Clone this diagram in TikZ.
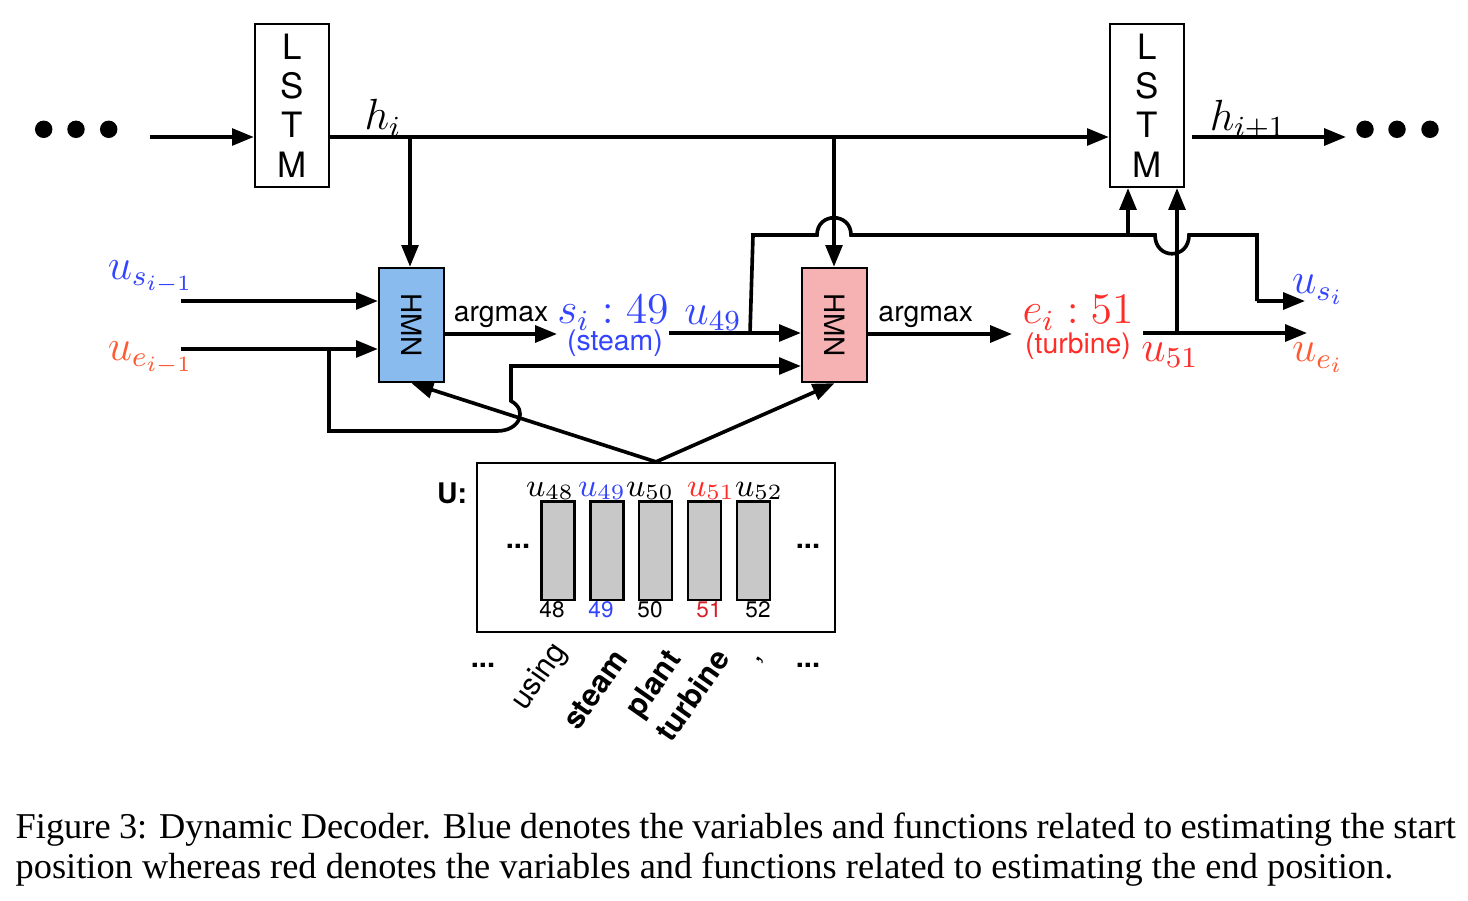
\documentclass[tikz,border=0pt]{standalone}
\usepackage{fontspec}
\setsansfont{TeX Gyre Heros}
\newfontfamily\captionfont{Liberation Serif}
\usetikzlibrary{
	arrows.meta,
	positioning
}
\definecolor{startblue}{RGB}{51,68,255}
\definecolor{endred}{RGB}{255,45,40}
\definecolor{endorange}{RGB}{255,90,50}
\definecolor{endnum}{RGB}{215,30,40}
\definecolor{hmnblue}{RGB}{138,187,238}
\definecolor{hmnpink}{RGB}{246,178,178}
\definecolor{bargray}{RGB}{200,200,200}
\tikzset{
	>={Triangle[length=6pt,width=4.6pt]},
	graphedge/.style={line width=1pt},
	boxline/.style={draw, line width=0.6pt, inner sep=0pt},
	lstmnode/.style={boxline, minimum width=20.4pt, minimum height=44.8pt, align=center, font=\sffamily\fontsize{9.6}{10.8}\selectfont},
	hmnnode/.style={boxline, minimum width=17.9pt, minimum height=31.4pt},
	hmntext/.style={rotate=-90, inner sep=0pt, font=\sffamily\fontsize{7.7}{8}\selectfont},
	barnode/.style={boxline, fill=bargray, minimum width=9.1pt, minimum height=27pt},
	sanslabel/.style={inner sep=0pt, font=\sffamily\fontsize{7.8}{8}\selectfont},
	mathlabel/.style={inner sep=0pt, font=\fontsize{12}{12}\selectfont},
	inlabel/.style={inner sep=0pt, font=\fontsize{11.5}{11.5}\selectfont},
	ulabel/.style={inner sep=0pt, font=\fontsize{9}{9}\selectfont},
	numlabel/.style={inner sep=0pt, font=\sffamily\fontsize{6.2}{7}\selectfont},
	wordlabel/.style={rotate=55, inner sep=0pt, font=\sffamily\fontsize{8.4}{9}\selectfont},
	boldword/.style={wordlabel, font=\sffamily\bfseries\fontsize{8.4}{9}\selectfont},
	dotnode/.style={circle, fill, inner sep=0pt, minimum size=4.8pt},
	ellipsis/.style={inner sep=0pt, font=\sffamily\bfseries\fontsize{8}{8}\selectfont}
}

\begin{document}
\begin{tikzpicture}[x=0.275pt, y=-0.275pt]
	\useasboundingbox (0,0) rectangle (1468,900);

	% LSTM row
	\node[lstmnode] (lstm1) at (292,105.5) {L\\S\\T\\M};
	\node[lstmnode] (lstm2) at (1147,105.5) {L\\S\\T\\M};
	\foreach \x [count=\i] in {43.7,76,108.7} \node[dotnode] (ldot\i) at (\x,129.3) {};
	\foreach \x [count=\i] in {1365,1397,1430} \node[dotnode] (rdot\i) at (\x,129.3) {};
	\coordinate (leftin) at (150,137);
	\coordinate (rightout) at (1346,137);
	\node[mathlabel] (hi) at (383,118) {$h_i$};
	\node[mathlabel] (hnext) at (1248,120) {$h_{i+1}$};

	% HMN blocks
	\node[hmnnode, fill=hmnblue] (hmnS) at (411.5,325) {};
	\node[hmntext] (hmnStext) at (hmnS) {HMN};
	\node[hmnnode, fill=hmnpink] (hmnE) at (834.5,325) {};
	\node[hmntext] (hmnEtext) at (hmnE) {HMN};

	% inputs
	\node[inlabel, text=startblue] (usprevlabel) at (151,277) {$u_{s_{i-1}}$};
	\node[inlabel, text=endorange] (ueprevlabel) at (151,358) {$u_{e_{i-1}}$};
	\coordinate (usprev) at (181,301);
	\coordinate (ueprev) at (181,349);
	\coordinate (uesplit) at (329,349);
	\coordinate (ueloop) at (511,366);

	% predictions
	\node[mathlabel, text=startblue] (spred) at (613,313) {$s_i : 49$};
	\node[sanslabel, text=startblue] (sword) at (615,343) {(steam)};
	\node[mathlabel, text=endred] (epred) at (1078,313) {$e_i : 51$};
	\node[sanslabel, text=endred] (eword) at (1078,346) {(turbine)};
	\node[mathlabel, text=startblue] (u49label) at (713,318) {$u_{49}$};
	\node[mathlabel, text=endred] (u51label) at (1170,355) {$u_{51}$};
	\node[inlabel, text=startblue] (uslabel) at (1318,290) {$u_{s_i}$};
	\node[inlabel, text=endorange] (uelabel) at (1318,358) {$u_{e_i}$};
	\coordinate (argS) at (557,334);
	\coordinate (argE) at (1012,334);
	\coordinate (u49start) at (669,333);
	\coordinate (u49split) at (750,333);
	\coordinate (usfork) at (1128,235);
	\coordinate (u51start) at (1143,333);
	\coordinate (uefork) at (1177,333);
	\coordinate (usout) at (1305,301);
	\coordinate (ueout) at (1307,333);
	\coordinate (hsplit) at (410,137);
	\coordinate (hsplit2) at (834,137);

	% U matrix
	\node[boxline, minimum width=98.5pt, minimum height=46.5pt] (ubox) at (656,547.5) {};
	\node[inner sep=0pt, font=\sffamily\bfseries\fontsize{7.8}{8}\selectfont] (ulabel) at (452,493) {U:};
	\foreach \n/\x in {48/558,49/607,50/655.5,51/704.5,52/753.5}
		\node[barnode] (bar\n) at (\x,550.5) {};
	\foreach \n/\x/\c in {48/550/black,49/602/startblue,50/650/black,51/711/endred,52/759/black}
		\node[ulabel, text=\c] (u\n) at (\x,491) {$u_{\n}$};
	\foreach \n/\x/\c in {48/552/black,49/601/startblue,50/650/black,51/709/endnum,52/758/black}
		\node[numlabel, text=\c] (num\n) at (\x,610) {\n};
	\node[ellipsis] (udotsl) at (518,546) {...};
	\node[ellipsis] (udotsr) at (808,546) {...};

	% words
	\node[ellipsis] (wdotsl) at (483,665) {...};
	\node[ellipsis] (wdotsr) at (808,665) {...};
	\node[wordlabel] (wusing) at (540,677) {using};
	\node[boldword] (wsteam) at (595,690) {steam};
	\node[boldword] (wplant) at (655,685) {plant};
	\node[boldword] (wturbine) at (692,695) {turbine};
	\node[wordlabel] (wcomma) at (760,660) {,};

	% connectors
	\draw[graphedge,->] (leftin) -- (leftin -| lstm1.west);
	\draw[graphedge,->] (lstm1.east |- leftin) -- (lstm2.west |- leftin);
	\draw[graphedge,->,shorten <=2pt] (lstm2.east |- rightout) -- (rightout);
	\draw[graphedge,->] (hsplit) -- (hsplit |- hmnS.north);
	\draw[graphedge,->] (hsplit2) -- (hsplit2 |- hmnE.north);
	\draw[graphedge,->] (usprev) -- (usprev -| hmnS.west);
	\draw[graphedge,->] (ueprev) -- (ueprev -| hmnS.west);
	\draw[graphedge,->] (uesplit) -- (329,431) -- (497,431) .. controls (520,431) and (528,410) .. (511,401) -- (ueloop) -- (ueloop -| hmnE.west);
	\draw[graphedge,->] (ubox.north) -- (hmnS.south);
	\draw[graphedge,->] (ubox.north) -- (hmnE.south);
	\draw[graphedge,->] (argS -| hmnS.east) -- (argS) node[sanslabel, midway, above=1.2pt] (argmaxS) {argmax};
	\draw[graphedge,->] (u49start) -- (u49start -| hmnE.west);
	\draw[graphedge,->] (argE -| hmnE.east) -- (argE) node[sanslabel, pos=0.4, above=1.2pt] (argmaxE) {argmax};
	\draw[graphedge] (u49split) -- (753,235) -- (817,235) .. controls (817,212) and (851,212) .. (851,235) -- (usfork) -- (1155,235) .. controls (1155,260) and (1189,260) .. (1189,235) -- (1257,235) -- (1257,301);
	\draw[graphedge,->] (1257,301) -- (usout);
	\draw[graphedge,->] (usfork) -- (usfork |- lstm2.south);
	\draw[graphedge,->] (u51start) -- (ueout);
	\draw[graphedge,->] (uefork) -- (uefork |- lstm2.south);

	% caption
	\node[anchor=north west, text width=396pt, align=justify, inner sep=0pt, font=\captionfont\fontsize{10}{11}\selectfont] (caption) at (15,812) {Figure 3: Dynamic Decoder. Blue denotes the variables and functions related to estimating the start position whereas red denotes the variables and functions related to estimating the end position.};
\end{tikzpicture}
\end{document}
